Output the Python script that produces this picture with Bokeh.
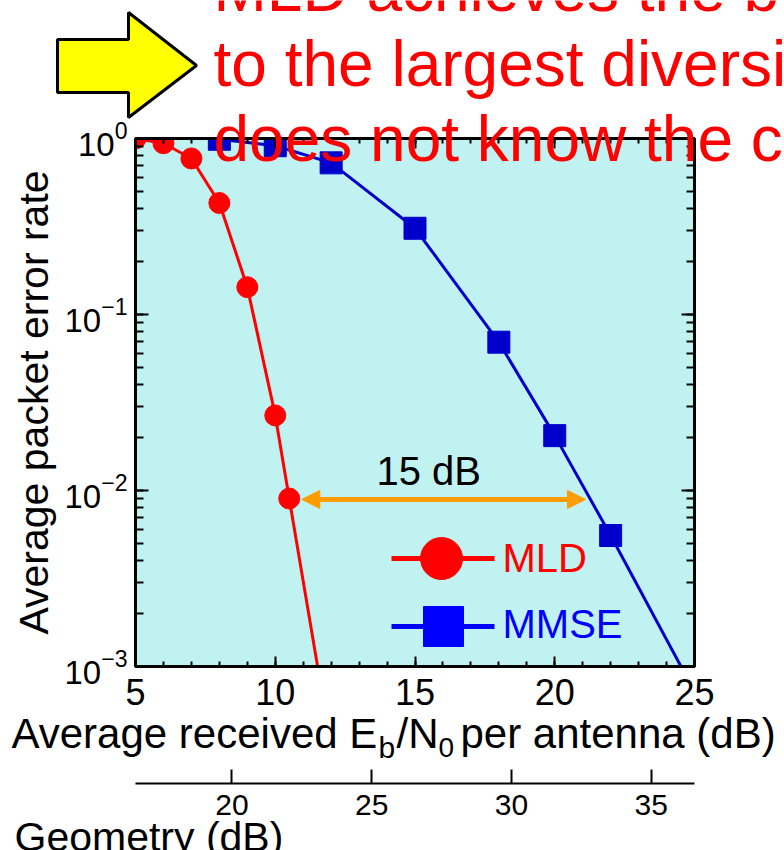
from bokeh.plotting import figure
from bokeh.models import (LogAxis, LinearAxis, Range1d, FixedTicker, LogTicker, Label,
                          Arrow, NormalHead, ColumnDataSource)
from bokeh.embed import file_html
from bokeh.resources import INLINE
from bokeh.core.properties import value

# ---------------- data ----------------
mld_x = [5, 6, 7, 8, 9, 10, 10.5, 12]
mld_y = [1.0, 0.94, 0.77, 0.43, 0.143, 0.0267, 0.0090, 0.00035]
mmse_x = [8, 10, 12, 15, 18, 20, 22, 25]
mmse_y = [0.99, 0.91, 0.727, 0.309, 0.0696, 0.0205, 0.00555, 0.00072]
x_ticks = [5, 10, 15, 20, 25]
geo_ticks = [20, 25, 30, 35]
geo_offset = 11.55           # Geometry (dB) = Eb/N0 + offset
gap_arrow_x = [10.95, 21.1]  # orange double arrow (dB)
gap_arrow_y = 0.0089
gap_label = "15 dB"
series_names = ["MLD", "MMSE"]
title_lines = ["MLD achieves the b", "to the largest diversi", "does not know the c"]

FONT = "Liberation Sans"
RED = "#FF0000"
BLUE = "#0000CC"
LBLUE = "#0000FF"
ORANGE = "#FF9C00"
BG = "#C0F2F2"
KB = 0.36   # baseline correction (fraction of font size) for the svg text renderer

W, H = 784, 850
# frame position on the page (px)
PL, PT, PR, PB = 135, 138, 694, 666
X0, X1 = 5, 25
Y0, Y1 = 1e-3, 1.0

p = figure(width=W, height=H, x_range=Range1d(X0, X1), y_range=Range1d(Y0, Y1),
           y_axis_type="log", output_backend="svg", toolbar_location=None,
           min_border_left=PL, min_border_top=PT,
           min_border_right=W - PR, min_border_bottom=H - PB)
p.background_fill_color = BG
p.border_fill_color = "white"
p.outline_line_color = "black"
p.outline_line_width = 3
p.grid.visible = False

# ---- helpers: page px -> screen units (relative to frame, y up) and data
def sx(px):
    return px - PL

def sy(py):
    return PB - py

def dx(px):
    return X0 + (px - PL) * (X1 - X0) / (PR - PL)

def dy(py):
    return 10 ** (0 - 3 * (py - PT) / (PB - PT))

# ---------------- axes ----------------
xa = p.xaxis[0]
xa.ticker = FixedTicker(ticks=x_ticks, minor_ticks=list(range(X0, X1 + 1)))
ya = p.yaxis[0]

def style_common(ax, major_in, minor_in, lw=3):
    ax.axis_line_width = lw
    ax.axis_line_color = "black"
    ax.major_tick_in = major_in
    ax.major_tick_out = 0
    ax.minor_tick_in = minor_in
    ax.minor_tick_out = 0
    ax.major_tick_line_width = 2
    ax.minor_tick_line_width = 2
    ax.major_tick_line_color = "black"
    ax.minor_tick_line_color = "black"
    ax.major_label_text_font = FONT
    ax.major_label_text_color = "black"

style_common(xa, 10, 5)
xa.major_label_text_font_size = "36px"
xa.major_label_standoff = 12
# spacer label (the real label, with sub-scripts, is drawn on the overlay)
xa.axis_label = " "
xa.axis_label_text_font_size = "40px"
xa.axis_label_standoff = 29

style_common(ya, 13, 8)
ya.ticker = LogTicker(num_minor_ticks=10)
ya.major_label_text_font_size = "33px"
ya.major_label_standoff = 8
ya.axis_label = "Average packet error rate"
ya.axis_label_text_font = FONT
ya.axis_label_text_font_style = "normal"
ya.axis_label_text_font_size = "41px"
ya.axis_label_text_color = "black"
ya.axis_label_standoff = 4

top = LinearAxis(ticker=FixedTicker(ticks=x_ticks, minor_ticks=list(range(X0, X1 + 1))))
style_common(top, 10, 5)
top.major_label_text_color = None
p.add_layout(top, "above")

right = LogAxis(ticker=LogTicker(num_minor_ticks=10))
style_common(right, 13, 8)
right.major_label_text_color = None
right.major_label_text_font_size = "20px"
p.add_layout(right, "right")

p.extra_x_ranges = {"geo": Range1d(X0 + geo_offset, X1 + geo_offset)}
geo = LinearAxis(x_range_name="geo", ticker=FixedTicker(ticks=geo_ticks, minor_ticks=[]))
style_common(geo, 14, 0, lw=2)
geo.major_label_text_font_size = "30px"
geo.major_label_standoff = 11
p.add_layout(geo, "below")

# ---------------- series ----------------
src_mld = ColumnDataSource(dict(x=mld_x, y=mld_y))
src_mmse = ColumnDataSource(dict(x=mmse_x, y=mmse_y))
p.line("x", "y", source=src_mld, line_color=RED, line_width=3)
p.scatter("x", "y", source=src_mld, marker="circle", size=21, fill_color=RED, line_color=RED)
p.line("x", "y", source=src_mmse, line_color=BLUE, line_width=3)
p.scatter("x", "y", source=src_mmse, marker="square", size=22, fill_color=BLUE, line_color=BLUE)

# ---------------- gap annotation ----------------
p.add_layout(Arrow(start=NormalHead(size=18, fill_color=ORANGE, line_color=ORANGE),
                   end=NormalHead(size=18, fill_color=ORANGE, line_color=ORANGE),
                   x_start=gap_arrow_x[0], y_start=gap_arrow_y,
                   x_end=gap_arrow_x[1], y_end=gap_arrow_y,
                   line_color=ORANGE, line_width=5))

def frame_label(t, x, base, size, color):
    p.add_layout(Label(x=sx(x), y=sy(base - KB * size), x_units="screen", y_units="screen",
                       text=t, text_font=FONT, text_font_size=f"{size}px",
                       text_color=color, text_baseline="alphabetic", text_align="left"))

frame_label(gap_label, 376, 485, 40, "black")

# ---------------- legend (manual) ----------------
leg_src1 = ColumnDataSource(dict(x=[dx(391), dx(494)], y=[dy(558), dy(558)]))
leg_src2 = ColumnDataSource(dict(x=[dx(391), dx(494)], y=[dy(626), dy(626)]))
p.line("x", "y", source=leg_src1, line_color=RED, line_width=5)
p.scatter(x=[dx(441)], y=[dy(558)], marker="circle", size=42, fill_color=RED, line_color=RED)
p.line("x", "y", source=leg_src2, line_color=LBLUE, line_width=5)
p.scatter(x=[dx(443)], y=[dy(626)], marker="square", size=40, fill_color=LBLUE, line_color=LBLUE)
frame_label(series_names[0], 502, 572, 40, RED)
frame_label(series_names[1], 502, 638, 40, LBLUE)

# ---------------- overlay canvas for texts outside the frame ----------------
ov = figure(width=W, height=H, x_range=Range1d(0, W), y_range=Range1d(H, 0),
            output_backend="svg", toolbar_location=None, min_border=0,
            x_axis_location=None, y_axis_location=None)
ov.outline_line_color = None
ov.background_fill_alpha = 0
ov.border_fill_alpha = 0
ov.grid.visible = False
ov.margin = (-H, 0, 0, 0)

def ov_text(t, x, base, size, color="black"):
    ov.text(x=[x], y=[base - KB * size], text=[t], text_font=value(FONT),
            text_font_size=value(f"{size}px"), text_color=color,
            text_baseline="alphabetic", text_align="left")

# x-axis title with sub-scripts
BASE = 748
ov_text("Average received E", 11, BASE, 42)
ov_text("b", 378, BASE + 10, 30)
ov_text("/N", 396, BASE, 42)
ov_text("0", 438, BASE + 9, 28)
ov_text("per antenna (dB)", 460, BASE, 42)
ov_text("Geometry (dB)", 14, 851, 41)

# call-out arrow and text
arrow_px = [57, 128, 128, 196, 128, 128, 57]
arrow_py = [39, 39, 12, 65, 117, 92, 92]
ov.patch(arrow_px, arrow_py, fill_color="#FFFF00", line_color="black", line_width=3)
for i, line in enumerate(title_lines):
    ov_text(line, 213, 12 + 75 * i, 64, RED)

open("out.html", "w").write(file_html([p, ov], INLINE))
